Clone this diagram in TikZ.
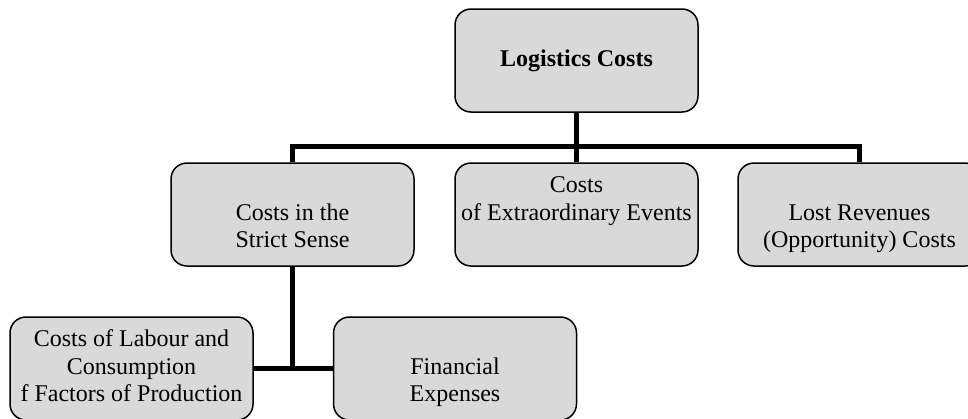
\documentclass[tikz,border=0pt]{standalone}
\usepackage{fontspec}
\setmainfont{Liberation Serif}
\pgfdeclarelayer{background}
\pgfsetlayers{background,main}
\begin{document}
\begin{tikzpicture}[x=1pt,y=-1pt,
  box/.style={draw=black, line width=1.5pt, fill=boxgray, rounded corners=16pt,
    minimum width=243pt, minimum height=103pt, inner sep=0pt, align=center,
    font=\fontsize{24}{27.5}\selectfont},
  conn/.style={line width=5pt, black}]
\definecolor{boxgray}{HTML}{D9D9D9}
\useasboundingbox (0,0) rectangle (968,418);
\clip (0,0) rectangle (968,418);
% nodes
\node[box] (top) at (576.5,60.5) {\textbf{Logistics Costs}};
\node[box] (b1) at (292.5,214.5) {\strut\\Costs in the\\Strict Sense\strut};
\node[box] (b2) at (576.5,214.5) {\strut Costs\\of Extraordinary Events\\\strut};
\node[box] (b3) at (859.5,214.5) {\strut\\Lost Revenues\\(Opportunity) Costs\strut};
\node[box] (bl) at (131.5,368.5) {\strut Costs of Labour and\\Consumption\\f Factors of Production\strut};
\node[box] (br) at (455,368.5) {\strut\\Financial\\Expenses\strut};
\coordinate (bus) at (576.5,146);
% connectors, behind the boxes
\begin{pgfonlayer}{background}
\fill[white] (0,0) rectangle (968,418);
\draw[conn] (top.south) -- (top.south |- bus);
\draw[conn] (b1.north) -- (b1.north |- bus) -- (b3.north |- bus) -- (b3.north);
\draw[conn] (b2.north) -- (b2.north |- bus);
\draw[conn] (b1.south) -- (b1.south |- bl.east);
\draw[conn] (bl.east) -- (br.west);
\end{pgfonlayer}
\end{tikzpicture}
\end{document}
